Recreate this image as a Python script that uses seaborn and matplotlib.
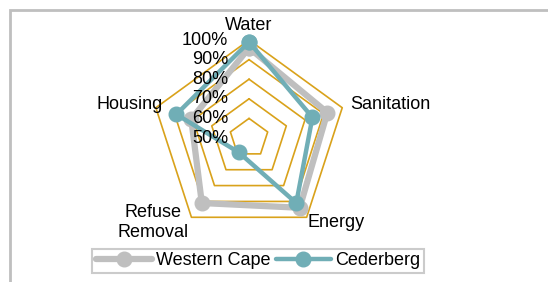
import numpy as np
import seaborn as sns
import matplotlib.pyplot as plt
from matplotlib.patches import Rectangle

# data
categories = ['Water', 'Sanitation', 'Energy', 'Refuse\nRemoval', 'Housing']
western_cape = [0.96, 0.92, 0.94, 0.91, 0.81]
cederberg = [0.99, 0.84, 0.91, 0.59, 0.89]
levels = [0.5, 0.6, 0.7, 0.8, 0.9, 1.0]
level_labels = ['50%', '60%', '70%', '80%', '90%', '100%']

sns.set_style('white')
plt.rcParams['font.family'] = ['Liberation Sans', 'DejaVu Sans']
plt.rcParams['text.color'] = 'black'

grey = '#BFBFBF'
teal = '#70AEB6'
gold = '#D9A21B'

fig = plt.figure(figsize=(5.48, 2.82), dpi=100)
ax = fig.add_axes([0.2756, 0.1631, 0.3577, 0.695], projection='polar')
ax.set_theta_offset(np.pi / 2)
ax.set_theta_direction(-1)
ax.set_ylim(0.5, 1.0)
ax.grid(False)
ax.spines['polar'].set_visible(False)
ax.set_xticks([])
ax.set_yticks([])
ax.patch.set_alpha(0)

n = len(categories)
angles = np.linspace(0, 2 * np.pi, n, endpoint=False)
closed = np.append(angles, angles[0])

# pentagon gridlines
for lv in levels[1:]:
    ax.plot(closed, [lv] * (n + 1), color=gold, lw=1.2, zorder=1, clip_on=False)

# series
for vals, col, lw, name in [(western_cape, grey, 4.5, 'Western Cape'),
                             (cederberg, teal, 3.2, 'Cederberg')]:
    v = np.append(vals, vals[0])
    ax.plot(closed, v, color=col, lw=lw, marker='o', ms=10.5, label=name,
            zorder=3, clip_on=False, solid_joinstyle='round')

# value axis labels
for lv, lab in zip(levels, level_labels):
    ax.annotate(lab, xy=(0, lv), xytext=(-21, 0), textcoords='offset pixels',
                ha='right', va='center', fontsize=13, color='black', zorder=4)

# category labels
for a, lab in zip(angles, categories):
    s, c = np.sin(a), np.cos(a)
    if c > 0.9:
        ha, va, off = 'center', 'bottom', (0, 6)
    elif c > 0:
        ha, va = ('left', 'center') if s > 0 else ('right', 'center')
        off = (8, 3) if s > 0 else (7, 3)
    else:
        ha, va = ('left', 'center') if s > 0 else ('right', 'center')
        off = (1, -5) if s > 0 else (-3, -5)
    ax.annotate(lab, xy=(a, 1.0), xytext=off, textcoords='offset pixels',
                ha=ha, va=va, fontsize=13, multialignment='center',
                color='black', annotation_clip=False)

leg = fig.legend(loc='upper center', bbox_to_anchor=(0.471, 0.118), ncol=2,
                 fontsize=13, frameon=True, fancybox=False, handlelength=3.1,
                 columnspacing=0.3, handletextpad=0.2, borderpad=0.2,
                 borderaxespad=0, labelcolor='black')
leg.get_frame().set_edgecolor(grey)
leg.get_frame().set_linewidth(1.5)

# chart border (only top and left edges fall inside the image)
fig.add_artist(Rectangle((10 / 548, -0.2), 1.2, 1.2 - 10 / 282, transform=fig.transFigure,
                         fill=False, ec=grey, lw=2, clip_on=False))

fig.savefig('out.png', dpi=100)
